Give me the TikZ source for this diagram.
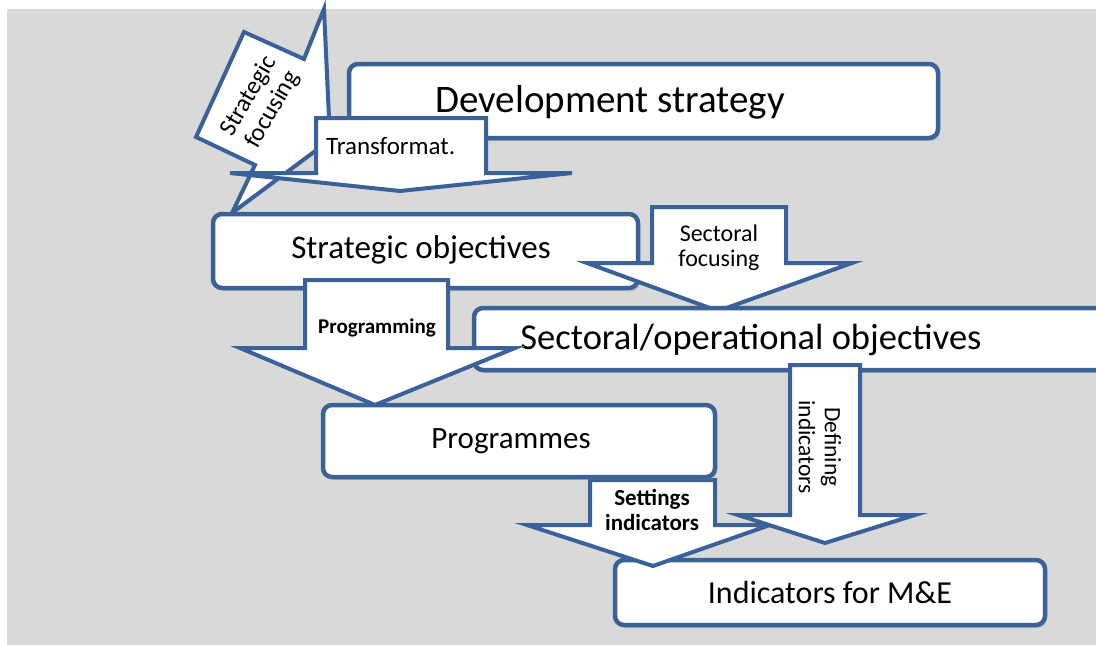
\documentclass[tikz,border=0pt]{standalone}
\usepackage{fontspec}
\setmainfont{Carlito}
\usetikzlibrary{shadows}
\definecolor{frameblue}{HTML}{3A6298}
\definecolor{backgray}{HTML}{D9D9D9}
\tikzset{
  stage/.style={draw=frameblue, line width=4.5pt, fill=white, rounded corners=9pt, inner sep=0pt,
    drop shadow={shadow xshift=2pt, shadow yshift=-3pt, opacity=0.3}},
  blockarrow/.style={draw=frameblue, line width=4pt, fill=white, line join=miter},
  smalltext/.style={align=center, inner sep=0pt},
}
\begin{document}
\begin{tikzpicture}[x=1pt,y=-1pt]
\useasboundingbox (0,0) rectangle (1096,645);
\clip (0,0) rectangle (1096,645);
\fill[backgray] (7,9) rectangle (1096,645);

% strategic focusing
\draw[blockarrow] (324,9) -- (304,59) -- (244,32) -- (196,137) -- (255,165) -- (232,213) -- (330,140) -- cycle;
\node[smalltext, rotate=60, font=\fontsize{25}{27}\selectfont] (stratfoc) at (261,103) {Strategic\\focusing};

% development strategy
\node[stage, minimum width=589pt, minimum height=74pt] (devbox) at (643.5,101) {};
\node[font=\fontsize{39}{42}\selectfont] (devlabel) at (610,102) {Development strategy};

% transformation
\draw[blockarrow] (316,118) -- (486,118) -- (486,173) -- (572,173) -- (400,191) -- (230,173) -- (316,173) -- cycle;
\node[smalltext, anchor=west, font=\fontsize{25}{27}\selectfont] (transf) at (326,146) {Transformat.};

% strategic objectives
\node[stage, minimum width=425pt, minimum height=74pt] (objbox) at (425.5,251) {};
\node[font=\fontsize{33}{36}\selectfont] (objlabel) at (421,250) {Strategic objectives};

% sectoral focusing
\draw[blockarrow] (652,207) -- (786,207) -- (786,263) -- (852,263) -- (718,311) -- (587,263) -- (652,263) -- cycle;
\node[smalltext, font=\fontsize{24}{25}\selectfont] (secfoc) at (719,248) {Sectoral\\focusing};

% sectoral/operational objectives
\node[stage, minimum width=646pt, minimum height=62pt] (secbox) at (797,339) {};
\node[font=\fontsize{36.5}{39}\selectfont] (seclabel) at (751,340) {Sectoral/operational objectives};

% programming
\draw[blockarrow] (305,280) -- (448,280) -- (448,348) -- (515,348) -- (375,405) -- (240,348) -- (305,348) -- cycle;
\node[smalltext, font=\bfseries\fontsize{21}{23}\selectfont] (progr) at (377,328) {Programming};

% indicators
\node[stage, minimum width=430pt, minimum height=65pt] (indbox) at (830,592.5) {};
\node[font=\fontsize{32}{35}\selectfont] (indlabel) at (830,593) {Indicators for M\&E};

% settings indicators
\draw[blockarrow] (590,480) -- (715,480) -- (715,525) -- (770,525) -- (653,566) -- (527,525) -- (590,525) -- cycle;
\node[smalltext, font=\bfseries\fontsize{23}{25}\selectfont] (setind) at (652,510) {Settings\\indicators};

% programmes
\node[stage, minimum width=392pt, minimum height=72pt] (progbox) at (519,441) {};
\node[font=\fontsize{31}{34}\selectfont] (proglabel) at (511,441) {Programmes};

% defining indicators
\draw[blockarrow] (790,365) -- (860,365) -- (860,515) -- (915,515) -- (825,543) -- (738,515) -- (790,515) -- cycle;
\node[smalltext, rotate=-90, font=\fontsize{23.5}{26}\selectfont] (defind) at (820,447) {Defining\\indicators};
\end{tikzpicture}
\end{document}
